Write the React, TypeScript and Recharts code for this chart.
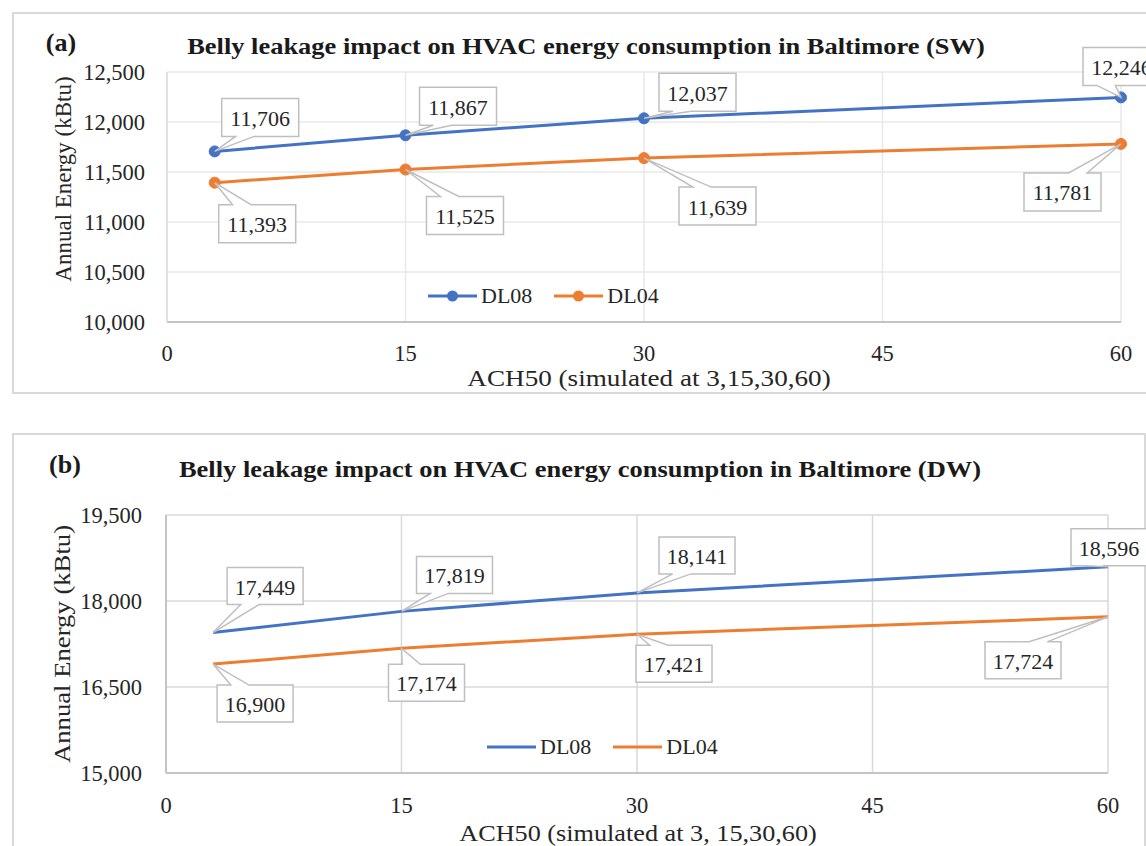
import React from 'react';
import { LineChart, Line, XAxis, YAxis, CartesianGrid, LabelList, Legend } from 'recharts';

// ---------- data ----------
const ach50 = [3, 15, 30, 60];
const swDL08 = [11706, 11867, 12037, 12246];
const swDL04 = [11393, 11525, 11639, 11781];
const dwDL08 = [17449, 17819, 18141, 18596];
const dwDL04 = [16900, 17174, 17421, 17724];
const xTicks = [0, 15, 30, 45, 60];
const swYTicks = [10000, 10500, 11000, 11500, 12000, 12500];
const dwYTicks = [15000, 16500, 18000, 19500];
const seriesNames = ['DL08', 'DL04'];

// ---------- style config (callout box offsets from their point) ----------
const swDL08Callouts = [[7, -53], [14, -48], [15, -45], [-38, -50]];
const swDL04Callouts = [[4, 22], [21, 27], [35, 29], [-97, 29]];
const dwDL08Callouts = [[14, -65], [15, -55], [22, -56], [-37, -38]];
const dwDL04Callouts = [[4, 21], [-13, 16], [-1, 11], [-123, 25]];

const SERIF = '"Liberation Serif", "Times New Roman", serif';
const BLUE = '#4472C4';
const ORANGE = '#ED7D31';
const TXT = '#262626';

const fmt = (v: number) => Number(v).toLocaleString('en-US');

const swData = ach50.map((a, i) => ({ ach: a, [seriesNames[0]]: swDL08[i], [seriesNames[1]]: swDL04[i] }));
const dwData = ach50.map((a, i) => ({ ach: a, [seriesNames[0]]: dwDL08[i], [seriesNames[1]]: dwDL04[i] }));

const makeCallout = (offsets: number[][], values: number[], w: number, h: number) => (props: any) => {
  const x = props.x ?? props.viewBox?.x;
  const y = props.y ?? props.viewBox?.y;
  const value = props.value;
  let index = props.index;
  if (index === undefined || index === null) index = values.indexOf(Number(value));
  if (x === undefined || y === undefined || index < 0) return null;
  const [dx, dy] = offsets[index];
  const bx = x + dx;
  const by = y + dy;
  const onLeft = x < bx + w / 2;
  const c = bx + (onLeft ? 0.3 : 0.7) * w;
  const hw = 0.12 * w;
  let d: string;
  if (y > by + h) {
    d = `M${bx},${by} H${bx + w} V${by + h} H${c + hw} L${x},${y} L${c - hw},${by + h} H${bx} Z`;
  } else {
    d = `M${bx},${by} H${c - hw} L${x},${y} L${c + hw},${by} H${bx + w} V${by + h} H${bx} Z`;
  }
  return (
    <g>
      <path d={d} fill="#ffffff" stroke="#bfbfbf" strokeWidth={1.5} />
      <text x={bx + w / 2} y={by + h / 2 + 1} textAnchor="middle" dominantBaseline="central"
        fontFamily={SERIF} fontSize={22} fill={TXT}>{fmt(value)}</text>
    </g>
  );
};

const makeLegend = (withDots: boolean) => (props: any) => {
  const payload = [...(props.payload || [])].sort(
    (a: any, b: any) => seriesNames.indexOf(a.value) - seriesNames.indexOf(b.value)
  );
  return (
    <div style={{ display: 'flex', alignItems: 'center', fontFamily: SERIF, fontSize: 22, color: TXT, whiteSpace: 'nowrap' }}>
      {payload.map((p: any, i: number) => (
        <div key={i} style={{ display: 'flex', alignItems: 'center', marginRight: 22 }}>
          <svg width={49} height={14} style={{ display: 'block' }}>
            <line x1={0} y1={7} x2={49} y2={7} stroke={p.color} strokeWidth={3} />
            {withDots && <circle cx={24.5} cy={7} r={5.5} fill={p.color} />}
          </svg>
          <span style={{ marginLeft: 4 }}>{p.value}</span>
        </div>
      ))}
    </div>
  );
};

const T = ({ x, y, size, bold, rotate, sx, children }: any) => (
  <div style={{
    position: 'absolute', left: x, top: y,
    transform: `translate(-50%, -50%)${rotate ? ` rotate(${rotate}deg)` : ''}${sx ? ` scaleX(${sx})` : ''}`,
    fontFamily: SERIF, fontSize: size, fontWeight: bold ? 700 : 400, color: bold ? '#1a1a1a' : TXT,
    whiteSpace: 'nowrap', lineHeight: 1,
  }}>{children}</div>
);

const tickStyle = { fill: TXT, fontSize: 22.5, fontFamily: SERIF };

export default function App() {
  return (
    <div style={{ position: 'absolute', left: 0, top: 0, width: 1146, height: 846, background: '#fff', overflow: 'hidden' }}>
      <div style={{ position: 'absolute', left: 12, top: 12, width: 1150, height: 382, border: '2px solid #d9d9d9', boxSizing: 'border-box' }} />
      <div style={{ position: 'absolute', left: 12, top: 433, width: 1134, height: 430, border: '2px solid #d9d9d9', boxSizing: 'border-box' }} />

      {/* Panel (a) */}
      <div style={{ position: 'absolute', left: 0, top: 0 }}>
        <LineChart width={1146} height={400} data={swData} margin={{ top: 72, right: 25, bottom: 48, left: 107 }}>
          <CartesianGrid stroke="#e8e8e8" strokeWidth={1.5} />
          <XAxis dataKey="ach" type="number" domain={[0, 60]} ticks={xTicks} tickLine={false} tickSize={0}
            tickMargin={23} height={30} axisLine={{ stroke: '#c4c4c4', strokeWidth: 2 }} tick={tickStyle} />
          <YAxis type="number" domain={[10000, 12500]} ticks={swYTicks} tickFormatter={fmt} tickLine={false} tickSize={0}
            tickMargin={22} width={60} axisLine={{ stroke: '#dcdcdc', strokeWidth: 1.5 }} tick={tickStyle} />
          <Legend verticalAlign="middle" align="center" layout="horizontal" content={makeLegend(true)}
            wrapperStyle={{ left: 428, top: 283, width: 320, height: 24 }} />
          <Line dataKey={seriesNames[0]} stroke={BLUE} strokeWidth={3} isAnimationActive={false}
            dot={{ r: 5.5, fill: BLUE, stroke: BLUE, strokeWidth: 1 }} activeDot={false}>
            <LabelList dataKey={seriesNames[0]} content={makeCallout(swDL08Callouts, swDL08, 77, 38)} />
          </Line>
          <Line dataKey={seriesNames[1]} stroke={ORANGE} strokeWidth={3} isAnimationActive={false}
            dot={{ r: 5.5, fill: ORANGE, stroke: ORANGE, strokeWidth: 1 }} activeDot={false}>
            <LabelList dataKey={seriesNames[1]} content={makeCallout(swDL04Callouts, swDL04, 77, 38)} />
          </Line>
        </LineChart>
      </div>

      {/* Panel (b) */}
      <div style={{ position: 'absolute', left: 0, top: 420 }}>
        <LineChart width={1146} height={426} data={dwData} margin={{ top: 95, right: 38, bottom: 43, left: 106 }}>
          <CartesianGrid stroke="#d9d9d9" strokeWidth={1.5} />
          <XAxis dataKey="ach" type="number" domain={[0, 60]} ticks={xTicks} tickLine={false} tickSize={0}
            tickMargin={24} height={30} axisLine={{ stroke: '#c4c4c4', strokeWidth: 2 }} tick={tickStyle} />
          <YAxis type="number" domain={[15000, 19500]} ticks={dwYTicks} tickFormatter={fmt} tickLine={false} tickSize={0}
            tickMargin={24} width={60} axisLine={{ stroke: '#c4c4c4', strokeWidth: 2 }} tick={tickStyle} />
          <Legend verticalAlign="middle" align="center" layout="horizontal" content={makeLegend(false)}
            wrapperStyle={{ left: 487, top: 314, width: 320, height: 24 }} />
          <Line dataKey={seriesNames[0]} stroke={BLUE} strokeWidth={3} isAnimationActive={false} dot={false} activeDot={false}>
            <LabelList dataKey={seriesNames[0]} content={makeCallout(dwDL08Callouts, dwDL08, 76, 37)} />
          </Line>
          <Line dataKey={seriesNames[1]} stroke={ORANGE} strokeWidth={3} isAnimationActive={false} dot={false} activeDot={false}>
            <LabelList dataKey={seriesNames[1]} content={makeCallout(dwDL04Callouts, dwDL04, 76, 37)} />
          </Line>
        </LineChart>
      </div>

      {/* Texts panel (a) */}
      <T x={61} y={43} size={26} bold>(a)</T>
      <T x={586} y={46} size={23} bold sx={1.15}>Belly leakage impact on HVAC energy consumption in Baltimore (SW)</T>
      <T x={63} y={179} size={23} rotate={-90}>Annual Energy (kBtu)</T>
      <T x={649} y={378} size={23} sx={1.18}>ACH50 (simulated at 3,15,30,60)</T>

      {/* Texts panel (b) */}
      <T x={65} y={465} size={26} bold>(b)</T>
      <T x={580} y={469} size={23} bold sx={1.15}>Belly leakage impact on HVAC energy consumption in Baltimore (DW)</T>
      <T x={62} y={644} size={23} rotate={-90} sx={1.16}>Annual Energy (kBtu)</T>
      <T x={638} y={833} size={23} sx={1.14}>ACH50 (simulated at 3, 15,30,60)</T>
    </div>
  );
}
